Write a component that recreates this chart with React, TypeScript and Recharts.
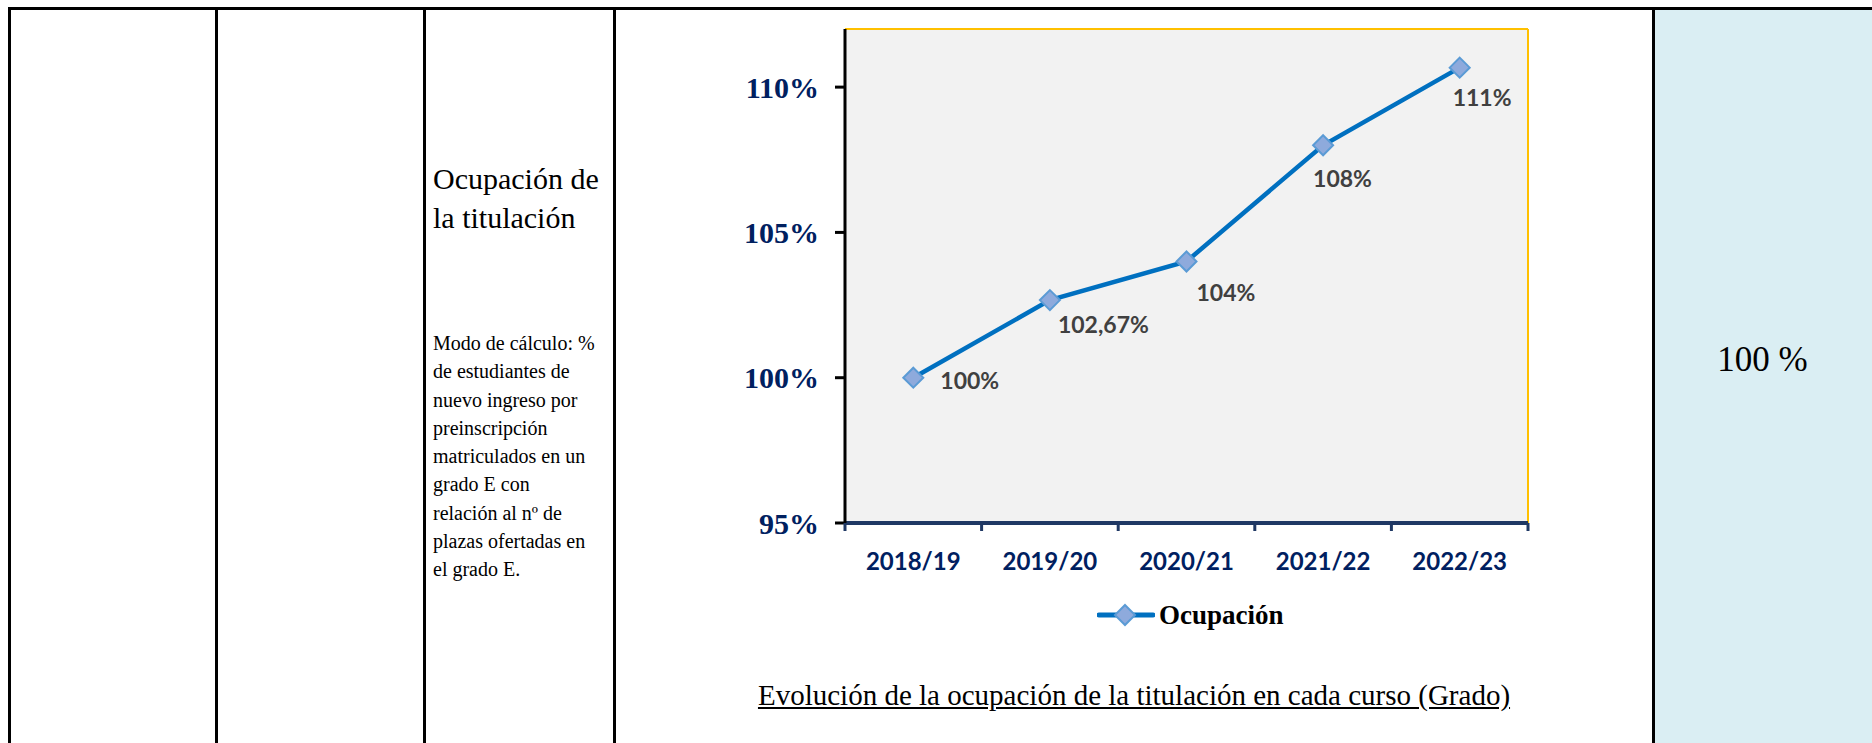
import React from 'react';
import { LineChart, Line, XAxis, YAxis, CartesianGrid, Legend, LabelList, ReferenceLine } from 'recharts';

const CATEGORIES = ['2018/19', '2019/20', '2020/21', '2021/22', '2022/23'];
const OCUPACION = [100, 102.67, 104, 108, 110.67];
const VALUE_LABELS = ['100%', '102,67%', '104%', '108%', '111%'];
const Y_TICKS = [95, 100, 105, 110];
const Y_TICK_LABELS = ['95%', '100%', '105%', '110%'];
const Y_DOMAIN: [number, number] = [95, 112];
const SERIES_NAME = 'Ocupación';

const data = CATEGORIES.map((c, i) => ({ curso: c, ocupacion: OCUPACION[i], label: VALUE_LABELS[i] }));

const LABEL_OFFSETS = [
  { dx: 27, dy: 2 },
  { dx: 8, dy: 24 },
  { dx: 10, dy: 31 },
  { dx: -10, dy: 33 },
  { dx: -7, dy: 29 },
];

const SERIF = "'Liberation Serif', 'Times New Roman', serif";
const NAVY = '#002060';
const LINE_BLUE = '#0070C0';
const MARK_FILL = '#8EAADC';
const MARK_STROKE = '#5B9BD5';
const X_TICK_SIZE = 8;
const X_TICK_MARGIN = 2;
const PLOT_W = 683;

const Diamond = (props: any) => {
  const { cx, cy } = props;
  if (cx == null || cy == null) return null;
  const r = 10;
  return (
    <polygon
      points={`${cx},${cy - r} ${cx + r},${cy} ${cx},${cy + r} ${cx - r},${cy}`}
      fill={MARK_FILL}
      stroke={MARK_STROKE}
      strokeWidth={2}
    />
  );
};

const XTick = (props: any) => {
  const { x, y, payload, index, visibleTicksCount } = props;
  const n = visibleTicksCount || CATEGORIES.length;
  const bw = PLOT_W / n;
  const axisY = y - X_TICK_SIZE - X_TICK_MARGIN;
  return (
    <g>
      <line x1={x - bw / 2} x2={x - bw / 2} y1={axisY} y2={axisY + X_TICK_SIZE} stroke="#1F3864" strokeWidth={3} />
      {index === n - 1 && (
        <line x1={x + bw / 2} x2={x + bw / 2} y1={axisY} y2={axisY + X_TICK_SIZE} stroke="#1F3864" strokeWidth={3} />
      )}
      <text
        x={x}
        y={axisY + 37}
        textAnchor="middle"
        dominantBaseline="central"
        fill={NAVY}
        fontFamily="Lato"
        fontWeight={700}
        fontSize={24}
      >
        {payload.value}
      </text>
    </g>
  );
};

const YTick = (props: any) => {
  const { x, y, payload } = props;
  const i = Y_TICKS.indexOf(payload.value);
  return (
    <text
      x={x}
      y={y}
      textAnchor="end"
      dominantBaseline="central"
      fill={NAVY}
      fontFamily={SERIF}
      fontWeight={700}
      fontSize={30}
    >
      {i >= 0 ? Y_TICK_LABELS[i] : payload.value}
    </text>
  );
};

const ValueLabel = (props: any) => {
  const { x, y, value, index } = props;
  const o = LABEL_OFFSETS[index] || { dx: 0, dy: 20 };
  return (
    <text
      x={x + o.dx}
      y={y + o.dy}
      textAnchor="start"
      dominantBaseline="central"
      fill="#404040"
      fontFamily="Lato"
      fontWeight={700}
      fontSize={23}
    >
      {value}
    </text>
  );
};

const LegendContent = () => (
  <div style={{ display: 'flex', alignItems: 'center', height: 30 }}>
    <svg width={58} height={24} style={{ display: 'block' }}>
      <line x1={2} x2={56} y1={12} y2={12} stroke={LINE_BLUE} strokeWidth={5} strokeLinecap="round" />
      <polygon points="28,2 38,12 28,22 18,12" fill={MARK_FILL} stroke={MARK_STROKE} strokeWidth={2} />
    </svg>
    <span
      style={{
        fontFamily: SERIF,
        fontWeight: 700,
        fontSize: 27,
        color: '#000',
        marginLeft: 4,
        whiteSpace: 'nowrap',
      }}
    >
      {SERIES_NAME}
    </span>
  </div>
);

const vline = (left: number): React.CSSProperties => ({
  position: 'absolute',
  left,
  top: 7,
  width: 3,
  height: 743,
  background: '#000',
});

export default function App() {
  return (
    <div
      style={{
        position: 'absolute',
        left: 0,
        top: 0,
        width: 1872,
        height: 743,
        overflow: 'hidden',
        background: '#fff',
      }}
    >
      <div style={{ position: 'absolute', left: 1653, top: 9, width: 219, height: 734, background: '#DAEEF3' }} />
      <div style={{ position: 'absolute', left: 8, top: 7, width: 1864, height: 3, background: '#000' }} />
      <div style={vline(8)} />
      <div style={vline(215)} />
      <div style={vline(423)} />
      <div style={vline(613)} />
      <div style={vline(1652)} />

      <div
        style={{
          position: 'absolute',
          left: 433,
          top: 159,
          fontFamily: SERIF,
          fontSize: 30,
          lineHeight: '39px',
          color: '#000',
          whiteSpace: 'nowrap',
        }}
      >
        Ocupación de
        <br />
        la titulación
      </div>
      <div
        style={{
          position: 'absolute',
          left: 433,
          top: 329,
          fontFamily: SERIF,
          fontSize: 20,
          lineHeight: '28.3px',
          color: '#000',
          whiteSpace: 'nowrap',
        }}
      >
        Modo de cálculo: %<br />
        de estudiantes de<br />
        nuevo ingreso por<br />
        preinscripción<br />
        matriculados en un<br />
        grado E con<br />
        relación al nº de<br />
        plazas ofertadas en<br />
        el grado E.
      </div>
      <div
        style={{
          position: 'absolute',
          left: 1653,
          width: 219,
          top: 340,
          textAlign: 'center',
          fontFamily: SERIF,
          fontSize: 35,
          lineHeight: '40px',
          color: '#000',
        }}
      >
        100 %
      </div>
      <div
        style={{
          position: 'absolute',
          left: 616,
          width: 1036,
          top: 677,
          textAlign: 'center',
          fontFamily: SERIF,
          fontSize: 29,
          lineHeight: '36px',
          color: '#000',
          textDecoration: 'underline',
          whiteSpace: 'nowrap',
        }}
      >
        Evolución de la ocupación de la titulación en cada curso (Grado)
      </div>

      <div style={{ position: 'absolute', left: 0, top: 0 }}>
        <LineChart width={1872} height={743} data={data} margin={{ top: 29, right: 344, bottom: 170, left: 785 }}>
          <CartesianGrid fill="#F2F2F2" horizontal={false} vertical={false} stroke="none" />
          <ReferenceLine y={Y_DOMAIN[1]} stroke="#FFC000" strokeWidth={2} />
          <ReferenceLine x={CATEGORIES[CATEGORIES.length - 1]} position="end" stroke="#FFC000" strokeWidth={2} />
          <XAxis
            dataKey="curso"
            scale="band"
            height={50}
            tickLine={false}
            tickSize={X_TICK_SIZE}
            tickMargin={X_TICK_MARGIN}
            interval={0}
            axisLine={{ stroke: '#1F3864', strokeWidth: 4 }}
            tick={<XTick />}
          />
          <YAxis
            type="number"
            domain={Y_DOMAIN}
            ticks={Y_TICKS}
            allowDataOverflow
            width={60}
            tickSize={10}
            tickMargin={16}
            tickLine={{ stroke: '#000', strokeWidth: 3 }}
            axisLine={{ stroke: '#000', strokeWidth: 3 }}
            tick={<YTick />}
          />
          <Legend
            content={<LegendContent />}
            wrapperStyle={{ position: 'absolute', left: 1097, top: 600, bottom: 'auto', width: 260, height: 0, overflow: 'visible' }}
          />
          <Line
            dataKey="ocupacion"
            name={SERIES_NAME}
            stroke={LINE_BLUE}
            strokeWidth={4.5}
            dot={<Diamond />}
            activeDot={false}
            isAnimationActive={false}
          >
            <LabelList dataKey="label" content={<ValueLabel />} />
          </Line>
        </LineChart>
      </div>
    </div>
  );
}
